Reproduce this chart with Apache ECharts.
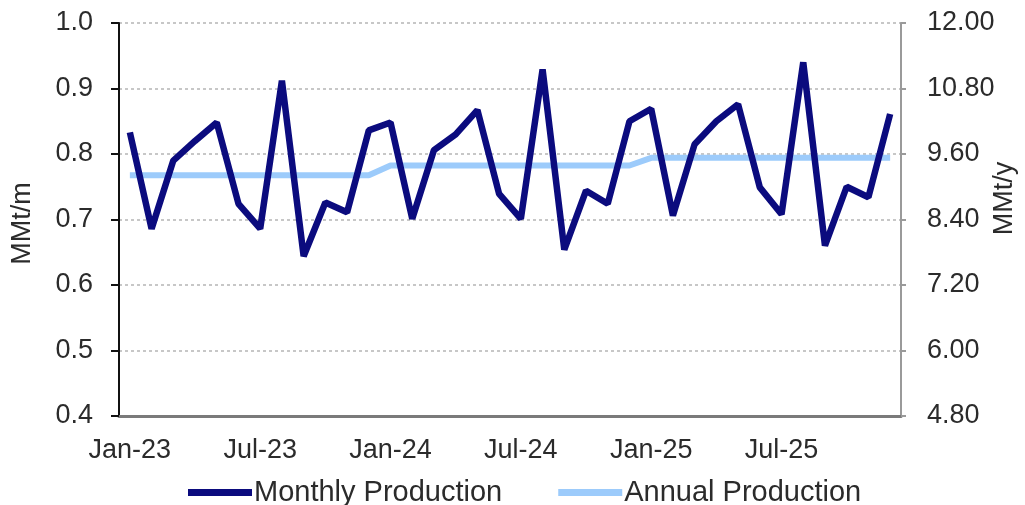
<!DOCTYPE html>
<html style="height: 100%">
<head>
<meta charset="utf-8">
</head>
<body style="height: 100%; margin: 0; background: #fff">
<div id="container" style="width: 1025px; height: 505px"></div>
<script type="text/javascript" src="https://cdn.jsdelivr.net/npm/echarts@6/dist/echarts.min.js"></script>
<script type="text/javascript">
// months Jan-23 .. Dec-25
var months = [
  'Jan-23','Feb-23','Mar-23','Apr-23','May-23','Jun-23','Jul-23','Aug-23','Sep-23','Oct-23','Nov-23','Dec-23',
  'Jan-24','Feb-24','Mar-24','Apr-24','May-24','Jun-24','Jul-24','Aug-24','Sep-24','Oct-24','Nov-24','Dec-24',
  'Jan-25','Feb-25','Mar-25','Apr-25','May-25','Jun-25','Jul-25','Aug-25','Sep-25','Oct-25','Nov-25','Dec-25'
];
// MMt/m, left axis
var monthly = [
  0.833, 0.686, 0.790, 0.820, 0.848, 0.724, 0.686, 0.912, 0.644, 0.726, 0.711, 0.836,
  0.848, 0.701, 0.806, 0.830, 0.867, 0.739, 0.701, 0.929, 0.654, 0.744, 0.724, 0.850,
  0.869, 0.706, 0.815, 0.850, 0.876, 0.749, 0.708, 0.940, 0.660, 0.750, 0.734, 0.861
];
// MMt/y, right axis
var annual = [
  9.21, 9.21, 9.21, 9.21, 9.21, 9.21, 9.21, 9.21, 9.21, 9.21, 9.21, 9.21,
  9.39, 9.39, 9.39, 9.39, 9.39, 9.39, 9.39, 9.39, 9.39, 9.39, 9.39, 9.39,
  9.53, 9.53, 9.53, 9.53, 9.53, 9.53, 9.53, 9.53, 9.53, 9.53, 9.53, 9.53
];

var font = 'Liberation Sans, Arial, sans-serif';
var txt = '#2b2b2b';

var myChart = echarts.init(document.getElementById('container'));

var option = {
  animation: false,
  grid: { left: 119, right: 124, top: 23, bottom: 89, containLabel: false, outerBoundsMode: 'none' },
  legend: {
    top: 473,
    left: 183,
    itemWidth: 64,
    itemHeight: 7,
    itemGap: 56,
    textStyle: { fontFamily: font, fontSize: 29, color: txt, padding: [0, 0, 0, -3] },
    data: [
      { name: 'Monthly Production', icon: 'rect' },
      { name: 'Annual Production', icon: 'rect' }
    ]
  },
  xAxis: {
    type: 'category',
    data: months,
    boundaryGap: true,
    axisLine: { lineStyle: { color: '#7a7a7a', width: 3 } },
    axisTick: { interval: 5, length: 8, lineStyle: { color: '#444', width: 2 } },
    axisLabel: { interval: 5, margin: 21, fontFamily: font, fontSize: 27, color: txt }
  },
  yAxis: [
    {
      type: 'value',
      min: 0.4, max: 1.0, interval: 0.1,
      name: 'MMt/m',
      nameLocation: 'middle',
      nameRotate: 90,
      nameGap: 83,
      nameMoveOverlap: false,
      nameTextStyle: { fontFamily: font, fontSize: 27, color: txt, padding: [0, 8, 0, 0] },
      axisLine: { show: true, lineStyle: { color: '#111', width: 2 } },
      axisTick: { show: true, length: 8, lineStyle: { color: '#111', width: 2 } },
      axisLabel: { margin: 26, fontFamily: font, fontSize: 27, color: txt,
        formatter: function (v) { return v.toFixed(1); } },
      splitLine: { show: true, lineStyle: { color: '#b5b5b5', type: [3, 3], width: 1.5 } }
    },
    {
      type: 'value',
      min: 4.8, max: 12.0, interval: 1.2,
      position: 'right',
      name: 'MMt/y',
      nameLocation: 'middle',
      nameRotate: 90,
      nameGap: 90,
      nameMoveOverlap: false,
      nameTextStyle: { fontFamily: font, fontSize: 27, color: txt, padding: [0, 0, 0, 42] },
      axisLine: { show: true, lineStyle: { color: '#9a9a9a', width: 2 } },
      axisTick: { show: true, length: 5, lineStyle: { color: '#9a9a9a', width: 2 } },
      axisLabel: { margin: 26, fontFamily: font, fontSize: 27, color: txt,
        formatter: function (v) { return v.toFixed(2); } },
      splitLine: { show: false }
    }
  ],
  series: [
    {
      name: 'Monthly Production',
      type: 'line',
      yAxisIndex: 0,
      data: monthly,
      symbol: 'none',
      itemStyle: { color: '#0b0b7e' },
      lineStyle: { color: '#0b0b7e', width: 6.5 },
      z: 3
    },
    {
      name: 'Annual Production',
      type: 'line',
      yAxisIndex: 1,
      data: annual,
      symbol: 'none',
      itemStyle: { color: '#9ccbfb' },
      lineStyle: { color: '#9ccbfb', width: 6 },
      z: 2
    }
  ]
};

myChart.setOption(option, true);
</script>
</body>
</html>
